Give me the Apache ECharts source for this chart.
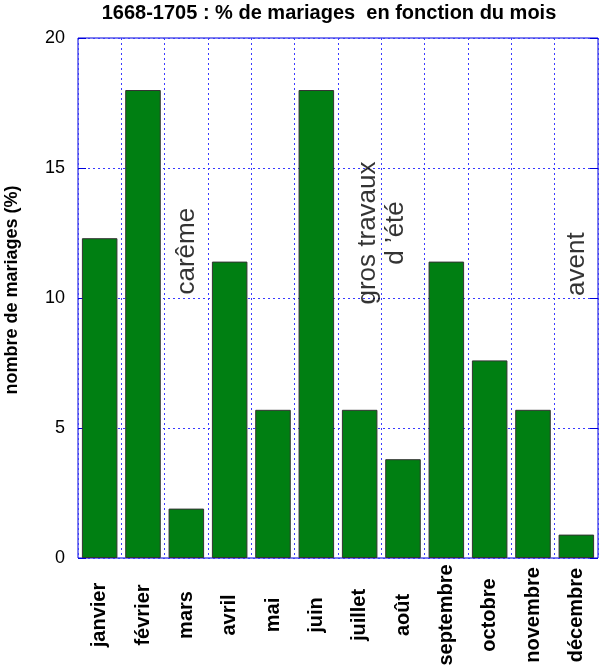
<!DOCTYPE html>
<html>
<head>
<meta charset="utf-8">
<script src="https://cdn.jsdelivr.net/npm/echarts@6/dist/echarts.min.js"></script>
<style>html,body{margin:0;padding:0;background:#fff}#c{width:600px;height:666px}</style>
</head>
<body>
<div id="c"></div>
<script>
var months = ['janvier','février','mars','avril','mai','juin','juillet','août','septembre','octobre','novembre','décembre'];
var values = [12.3, 18.0, 1.9, 11.4, 5.7, 18.0, 5.7, 3.8, 11.4, 7.6, 5.7, 0.9];
var yTicks = [0, 5, 10, 15, 20];
var annotX = [2.5, 7, 11.5];
var annotY = [11.8, 12.5, 11.3];
var annotText = ['carême', 'gros travaux\nd ’été', 'avent'];

var FONT = '"Liberation Sans", Arial, sans-serif';
var chart = echarts.init(document.getElementById('c'), null, {renderer: 'canvas'});
var annotData = annotX.map(function (x, i) { return {name: annotText[i], value: [x, annotY[i]]}; });

chart.setOption({
  animation: false,
  title: {
    text: '1668-1705 : % de mariages  en fonction du mois',
    left: 324, top: -2, textAlign: 'center',
    textStyle: {fontFamily: FONT, fontSize: 20, fontWeight: 'bold', color: '#000'}
  },
  grid: {left: 78, right: 2, top: 38, bottom: 108, show: true, borderColor: '#0000dd', borderWidth: 1,
         containLabel: false, outerBoundsMode: 'none'},
  xAxis: [{
    type: 'category', data: months, boundaryGap: true,
    axisLine: {show: false}, axisTick: {show: false},
    axisLabel: {rotate: 90, margin: 57, align: 'center', verticalAlign: 'middle', fontFamily: FONT, fontSize: 20, fontWeight: 'bold', color: '#000', interval: 0},
    splitLine: {show: true, lineStyle: {color: '#3a3aff', type: [2, 3], width: 1}}
  }, {
    type: 'value', min: 0, max: 12, show: false
  }],
  yAxis: [{
    type: 'value', min: yTicks[0], max: yTicks[yTicks.length - 1], interval: 5,
    axisLine: {show: false},
    axisTick: {show: true, inside: true, length: 8, lineStyle: {color: '#0000dd'}},
    axisLabel: {margin: 13, fontFamily: FONT, fontSize: 18, color: '#000'},
    splitLine: {show: true, lineStyle: {color: '#3a3aff', type: [2, 3], width: 1}},
    name: 'nombre de mariages (%)', nameLocation: 'middle', nameGap: 57, nameRotate: 90,
    nameTextStyle: {fontFamily: FONT, fontSize: 18, fontWeight: 'bold', color: '#000', padding: [0, 0, 0, 16]}
  }, {
    type: 'value', position: 'right', min: yTicks[0], max: yTicks[yTicks.length - 1], interval: 5,
    axisLine: {show: false},
    axisTick: {show: true, inside: true, length: 8, lineStyle: {color: '#0000dd'}},
    axisLabel: {show: false}, splitLine: {show: false}
  }],
  series: [{
    type: 'bar', data: values, barWidth: '82%',
    itemStyle: {color: '#007f12', borderColor: '#333', borderWidth: 1}
  }, {
    type: 'scatter', xAxisIndex: 1, yAxisIndex: 0, data: annotData, symbolSize: 0,
    silent: true, itemStyle: {color: '#000'},
    label: {
      show: true, position: 'inside', rotate: 90, formatter: '{b}',
      fontFamily: FONT, fontSize: 26, lineHeight: 28, color: '#000', align: 'center', verticalAlign: 'middle',
      textBorderWidth: 0, textBorderColor: 'transparent'
    }
  }]
});
</script>
</body>
</html>
